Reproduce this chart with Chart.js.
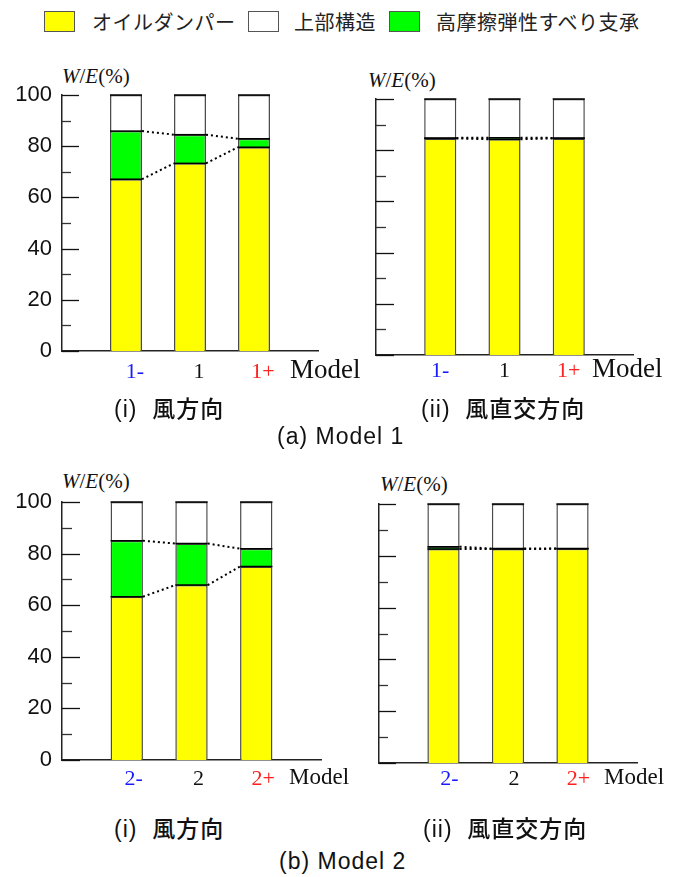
<!DOCTYPE html>
<html>
<head>
<meta charset="utf-8">
<script src="https://cdn.jsdelivr.net/npm/chart.js@4.4.1/dist/chart.umd.min.js"></script>
<style>
  html, body { margin: 0; padding: 0; background: #fff; }
  body { width: 681px; height: 877px; position: relative; overflow: hidden; }
  canvas { position: absolute; }
  .txt { position: absolute; white-space: nowrap; color: #111; }
  .leg-box { position: absolute; width: 29px; height: 19px; border: 1px solid #555; }
  .leg-txt { position: absolute; font-family: 'Noto Sans CJK JP', sans-serif; font-size: 20px; line-height: 20px; letter-spacing: 0.5px; color: #222; }
  .wl { font-family: 'Liberation Serif', serif; font-size: 21px; line-height: 21px; }
  .sub { font-family: 'Liberation Sans', 'Noto Sans CJK JP', sans-serif; font-size: 23px; line-height: 23px; letter-spacing: 1px; }
  .sub b { font-family: 'Noto Sans CJK JP', sans-serif; font-weight: 500; }
</style>
</head>
<body>
<!-- legend -->
<div class="leg-box" style="left:44px; top:11px; background:#ffff00;"></div>
<div class="leg-txt" style="left:92px; top:12px;">オイルダンパー</div>
<div class="leg-box" style="left:248px; top:11px; background:#ffffff;"></div>
<div class="leg-txt" style="left:294px; top:12px;">上部構造</div>
<div class="leg-box" style="left:389px; top:11px; background:#00ff00;"></div>
<div class="leg-txt" style="left:436px; top:12px;">高摩擦弾性すべり支承</div>

<!-- axis captions -->
<div class="txt wl" style="left:62px; top:66px;"><i>W</i>/<i>E</i>(%)</div>
<div class="txt wl" style="left:368px; top:70px;"><i>W</i>/<i>E</i>(%)</div>
<div class="txt wl" style="left:62px; top:471px;"><i>W</i>/<i>E</i>(%)</div>
<div class="txt wl" style="left:380px; top:474px;"><i>W</i>/<i>E</i>(%)</div>

<canvas id="a1" width="370" height="350" style="left:0px; top:50px;"></canvas>
<canvas id="a2" width="335" height="350" style="left:340px; top:50px;"></canvas>
<canvas id="b1" width="370" height="345" style="left:0px; top:455px;"></canvas>
<canvas id="b2" width="335" height="345" style="left:340px; top:455px;"></canvas>

<!-- panel captions -->
<div class="txt sub" style="left:114px; top:396px;">(i)&nbsp; <b>風方向</b></div>
<div class="txt sub" style="left:421px; top:396px;">(ii)&nbsp; <b>風直交方向</b></div>
<div class="txt sub" style="left:277px; top:425px;">(a) Model 1</div>
<div class="txt sub" style="left:114px; top:816px;">(i)&nbsp; <b>風方向</b></div>
<div class="txt sub" style="left:423px; top:816px;">(ii)&nbsp; <b>風直交方向</b></div>
<div class="txt sub" style="left:279px; top:850px;">(b) Model 2</div>

<script>
// Model cases on the horizontal axis
const casesModel1 = ['1-', '1', '1+'];
const casesModel2 = ['2-', '2', '2+'];
const caseColors = ['#1a1aff', '#111111', '#ff2020'];

// Energy share W/E (%) — Model 1, wind direction
const damperM1Wind = [67.1, 73.3, 79.6];
const bearingM1Wind = [18.8, 11.2, 3.3];
const structM1Wind = [14.1, 15.5, 17.1];

// Model 1, across-wind direction
const damperM1Across = [84.6, 84.3, 84.6];
const bearingM1Across = [0.2, 0.6, 0.2];
const structM1Across = [15.2, 15.1, 15.2];

// Model 2, wind direction
const damperM2Wind = [63.3, 67.8, 75.0];
const bearingM2Wind = [21.7, 16.1, 6.9];
const structM2Wind = [15.0, 16.1, 18.1];

// Model 2, across-wind direction
const damperM2Across = [82.6, 82.6, 82.7];
const bearingM2Across = [0.9, 0.2, 0.1];
const structM2Across = [16.5, 17.2, 17.2];

const yTickValues = [0, 20, 40, 60, 80, 100];

const COL_DAMPER = '#ffff00';
const COL_BEARING = '#00ff00';
const COL_STRUCT = '#ffffff';

// Draws segment top edges, dotted connectors, inward y ticks and the "Model" caption
const panelDecor = {
  id: 'panelDecor',
  afterDatasetsDraw(chart, args, opts) {
    const ctx = chart.ctx;
    const xs = chart.scales.x, ys = chart.scales.y;
    ctx.save();

    // top edge of every stacked segment
    ctx.strokeStyle = '#000';
    ctx.lineWidth = 1.5;
    chart.data.datasets.forEach((ds, di) => {
      chart.getDatasetMeta(di).data.forEach(bar => {
        const p = bar.getProps(['x', 'y', 'width'], true);
        ctx.beginPath();
        ctx.moveTo(p.x - p.width / 2, p.y);
        ctx.lineTo(p.x + p.width / 2, p.y);
        ctx.stroke();
      });
    });

    // dotted connectors between neighbouring bars (damper and bearing tops)
    ctx.setLineDash([2, 3]);
    ctx.lineWidth = 2;
    [0, 1].forEach(di => {
      const bars = chart.getDatasetMeta(di).data;
      for (let i = 0; i < bars.length - 1; i++) {
        const a = bars[i].getProps(['x', 'y', 'width'], true);
        const b = bars[i + 1].getProps(['x', 'y', 'width'], true);
        ctx.beginPath();
        ctx.moveTo(a.x + a.width / 2, a.y);
        ctx.lineTo(b.x - b.width / 2, b.y);
        ctx.stroke();
      }
    });
    ctx.setLineDash([]);

    // inward tick marks on the y axis
    const x0 = chart.chartArea.left;
    for (let v = ys.min; v <= ys.max; v += 10) {
      const major = v % 20 === 0;
      const py = Math.round(ys.getPixelForValue(v)) + 0.5;
      ctx.strokeStyle = major ? '#111' : '#333';
      ctx.lineWidth = 1.3;
      ctx.beginPath();
      ctx.moveTo(x0, py);
      ctx.lineTo(x0 + (major ? opts.majorLen : opts.minorLen), py);
      ctx.stroke();
    }

    // axis caption after the case labels
    ctx.fillStyle = '#111';
    ctx.font = opts.modelSize + 'px "Liberation Serif", serif';
    ctx.textBaseline = 'middle';
    ctx.textAlign = 'left';
    ctx.fillText('Model', xs.right + opts.modelDx, ys.bottom + opts.modelDy);
    ctx.restore();
  }
};

function makePanel(id, cases, damper, bearing, struct, cfg) {
  const pts = arr => arr.map((v, i) => ({ x: i + 1, y: v }));
  const common = { borderColor: '#4a4a4a', borderWidth: 1.5 };
  return new Chart(document.getElementById(id), {
    type: 'bar',
    data: {
      datasets: [
        Object.assign({ label: 'オイルダンパー', data: pts(damper), backgroundColor: COL_DAMPER }, common),
        Object.assign({ label: '高摩擦弾性すべり支承', data: pts(bearing), backgroundColor: COL_BEARING }, common),
        Object.assign({ label: '上部構造', data: pts(struct), backgroundColor: COL_STRUCT }, common)
      ]
    },
    options: {
      responsive: false,
      animation: false,
      events: [],
      layout: { padding: { top: cfg.padTop, right: cfg.padRight, left: 0, bottom: 0 } },
      datasets: { bar: { barPercentage: 0.5, categoryPercentage: 1.0 } },
      plugins: {
        legend: { display: false },
        tooltip: { enabled: false },
        panelDecor: cfg.decor
      },
      scales: {
        x: {
          type: 'linear',
          stacked: true,
          offset: false,
          min: 0,
          max: cases.length + 1,
          grid: { display: false, drawTicks: false },
          border: { color: '#222', width: 1.5 },
          afterBuildTicks: s => { s.ticks = cases.map((c, i) => ({ value: i + 1 })); },
          afterFit: s => { s.height = cfg.xHeight; },
          ticks: {
            autoSkip: false,
            maxRotation: 0,
            padding: cfg.xPad,
            labelOffset: cfg.labelOffset,
            font: { family: '"Liberation Serif", serif', size: 22 },
            color: c => caseColors[c.index],
            callback: v => cases[v - 1]
          }
        },
        y: {
          stacked: true,
          min: 0,
          max: 100,
          grid: { display: false, drawTicks: false },
          border: { color: '#222', width: 1.5 },
          afterBuildTicks: s => { s.ticks = yTickValues.map(v => ({ value: v })); },
          afterFit: s => { s.width = cfg.yWidth; },
          ticks: {
            display: cfg.showY,
            padding: 10,
            color: '#111',
            font: { family: '"Liberation Sans", Arial, sans-serif', size: 22 }
          }
        }
      }
    },
    plugins: [panelDecor]
  });
}

makePanel('a1', casesModel1, damperM1Wind, bearingM1Wind, structM1Wind, {
  padTop: 45, padRight: 52, yWidth: 62, xHeight: 49, xPad: 8, labelOffset: 9, showY: true,
  decor: { majorLen: 17, minorLen: 9, modelSize: 27, modelDx: -28, modelDy: 20 }
});
makePanel('a2', casesModel1, damperM1Across, bearingM1Across, structM1Across, {
  padTop: 49, padRight: 42, yWidth: 36, xHeight: 45, xPad: 3, labelOffset: 0, showY: false,
  decor: { majorLen: 18, minorLen: 10, modelSize: 27, modelDx: -41, modelDy: 15 }
});
makePanel('b1', casesModel2, damperM2Wind, bearingM2Wind, structM2Wind, {
  padTop: 47, padRight: 49, yWidth: 62, xHeight: 40, xPad: 6, labelOffset: 7, showY: true,
  decor: { majorLen: 18, minorLen: 10, modelSize: 23, modelDx: -32, modelDy: 18 }
});
makePanel('b2', casesModel2, damperM2Across, bearingM2Across, structM2Across, {
  padTop: 49, padRight: 38, yWidth: 39, xHeight: 37, xPad: 3, labelOffset: 6, showY: false,
  decor: { majorLen: 17, minorLen: 9, modelSize: 23, modelDx: -33, modelDy: 15 }
});
</script>
</body>
</html>
